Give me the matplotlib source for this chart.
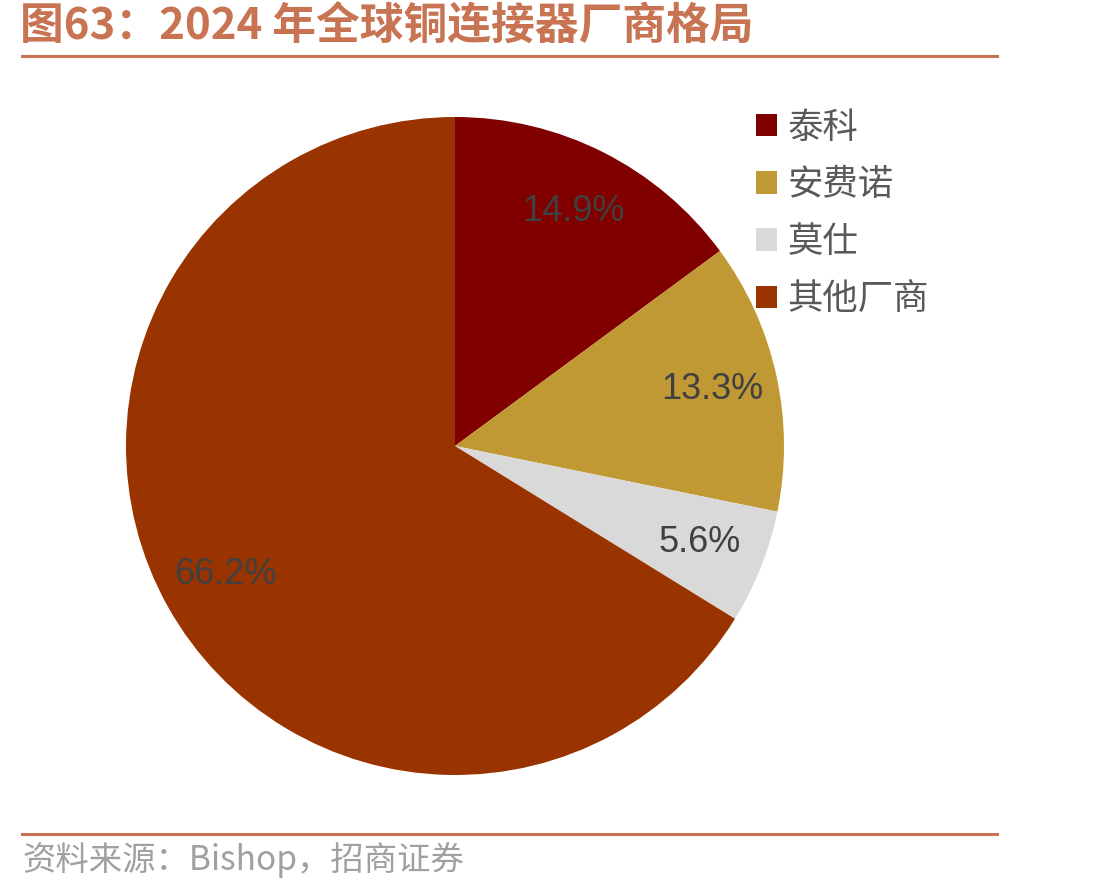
import matplotlib
matplotlib.use("Agg")
import matplotlib.pyplot as plt
from matplotlib.patches import Patch
from matplotlib.lines import Line2D

plt.rcParams['font.family'] = ['Noto Sans CJK SC', 'DejaVu Sans']

categories = ['泰科', '安费诺', '莫仕', '其他厂商']
shares = [14.9, 13.3, 5.6, 66.2]
colors = ['#800000', '#C09934', '#D9D9D9', '#993300']
title = '图63：2024 年全球铜连接器厂商格局'
source = '资料来源：Bishop，招商证券'

W, H = 1104, 896
fig = plt.figure(figsize=(W / 100, H / 100), dpi=100)

cx, cy, r = 455, 446, 329
ax = fig.add_axes([(cx - r) / W, (H - cy - r) / H, 2 * r / W, 2 * r / H])
wedges, texts, autotexts = ax.pie(
    shares, colors=colors, startangle=90, counterclock=False,
    autopct='%.1f%%', pctdistance=0.8, radius=1,
    textprops=dict(color='#404040', fontsize=26, family=['Liberation Sans', 'DejaVu Sans']),
    wedgeprops=dict(linewidth=0))
ax.set_xlim(-1, 1)
ax.set_ylim(-1, 1)
ax.set_aspect('equal')
ax.axis('off')

# title and rules
fig.text(20 / W, 1 - 27 / H, title, fontsize=31.5, fontweight='bold', color='#C87452',
         ha='left', va='center')
fig.add_artist(Line2D([22 / W, 997 / W], [1 - 56 / H, 1 - 56 / H], color='#C87452', lw=2.2))
fig.add_artist(Line2D([22 / W, 997 / W], [1 - 834 / H, 1 - 834 / H], color='#C87452', lw=2.2))
fig.text(22 / W, 1 - 860 / H, source, fontsize=24, color='#A0A0A0', ha='left', va='center')

handles = [Patch(facecolor=c, edgecolor='none') for c in colors]
leg = fig.legend(handles, categories, loc='upper left',
                 bbox_to_anchor=(738 / W, 1 - 92 / H), frameon=False,
                 fontsize=25.5, labelcolor='#595959', handlelength=0.6, handleheight=0.6,
                 handletextpad=0.3, labelspacing=0.6, borderpad=0)

fig.savefig('out.png', dpi=100)
